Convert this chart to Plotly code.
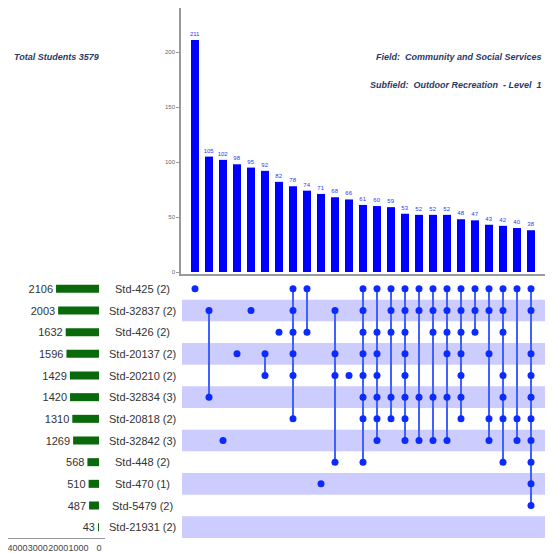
import plotly.graph_objects as go

# ---- data ----
intersection_sizes = [211, 105, 102, 98, 95, 92, 82, 78, 74, 71, 68, 66, 61, 60, 59,
                      53, 52, 52, 52, 48, 47, 43, 42, 40, 38]
set_names = ["Std-425 (2)", "Std-32837 (2)", "Std-426 (2)", "Std-20137 (2)",
             "Std-20210 (2)", "Std-32834 (3)", "Std-20818 (2)", "Std-32842 (3)",
             "Std-448 (2)", "Std-470 (1)", "Std-5479 (2)", "Std-21931 (2)"]
set_sizes = [2106, 2003, 1632, 1596, 1429, 1420, 1310, 1269, 568, 510, 487, 43]
memberships = [
    [0], [1, 5], [7], [3], [1], [3, 4], [2], [0, 1, 2, 3, 4, 6], [0, 2], [9],
    [1, 3, 4, 8], [4], [0, 1, 2, 3, 4, 5, 6, 8], [0, 2, 3, 4, 5, 6, 7],
    [0, 1, 2, 5, 6], [0, 1, 2, 3, 4, 5, 6, 7], [0, 1, 5, 7], [0, 1, 2, 5, 7],
    [0, 1, 2, 3, 5, 7], [0, 1, 2, 3, 4, 5, 6], [0, 1, 2], [0, 1, 3, 6, 7],
    [0, 1, 2, 4, 5, 6, 8], [0, 6, 7], [0, 1, 3, 4, 5, 6, 7, 8, 9, 10],
]
total_students = 3579
field = "Community and Social Services"
subfield = "Outdoor Recreation  - Level  1"
left_ticks = [0, 1000, 2000, 3000, 4000, 5000]
top_ticks = [0, 50, 100, 150, 200]

# page body has an 8px margin; figure is 545x545 placed at (8, 8)
OFF = 8
W = H = 545
def px(x):
    return (x - OFF) / W
def py(y):
    return 1 - (y - OFF) / H

cols = list(range(len(intersection_sizes)))
rows = list(range(len(set_names)))

fig = go.Figure()

# top intersection bars
fig.add_trace(go.Bar(
    x=cols, y=intersection_sizes, xaxis="x2", yaxis="y2",
    marker=dict(color="#0000ff", line=dict(width=0)), width=0.57,
    text=[str(v) for v in intersection_sizes], textposition="outside",
    constraintext="none",
    textfont=dict(size=6, color="#3333ff", family="Liberation Sans"),
    cliponaxis=False, showlegend=False, hoverinfo="skip"))

# left set-size bars
fig.add_trace(go.Bar(
    x=set_sizes, y=rows, orientation="h", xaxis="x", yaxis="y",
    marker=dict(color="#0a690a", line=dict(width=0)), width=0.37,
    text=[str(v) for v in set_sizes], textposition="outside",
    constraintext="none",
    textfont=dict(size=11, color="#333333", family="Liberation Sans"),
    cliponaxis=False, showlegend=False, hoverinfo="skip"))

# matrix lines
lx, ly = [], []
for c, m in enumerate(memberships):
    if len(m) > 1:
        lx += [c, c, None]
        ly += [min(m), max(m), None]
fig.add_trace(go.Scatter(
    x=lx, y=ly, mode="lines", xaxis="x3", yaxis="y3",
    line=dict(color="#4060ff", width=2), showlegend=False, hoverinfo="skip"))

# matrix dots
dx, dy = [], []
for c, m in enumerate(memberships):
    for r in m:
        dx.append(c)
        dy.append(r)
fig.add_trace(go.Scatter(
    x=dx, y=dy, mode="markers", xaxis="x3", yaxis="y3",
    marker=dict(color="#0a2aff", size=7, line=dict(width=0)),
    showlegend=False, hoverinfo="skip"))

# bands
shapes = []
for r in rows:
    if r % 2 == 1:
        shapes.append(dict(type="rect", xref="paper", yref="y3",
                           x0=px(182), x1=px(545), y0=r - 0.5, y1=r + 0.5,
                           fillcolor="#ccccff", line=dict(width=0), layer="below"))

annotations = []
for r, name in enumerate(set_names):
    annotations.append(dict(x=px(142), y=r, xref="paper", yref="y3",
                            text=name, showarrow=False, xanchor="center",
                            font=dict(size=11, color="#333333", family="Liberation Sans")))

title_font = dict(size=9, color="#2b3a67", family="Liberation Sans")
annotations.append(dict(x=px(12), y=py(57), xref="paper", yref="paper",
                        text=f"<b><i>Total Students {total_students}</i></b>",
                        showarrow=False, xanchor="left", yanchor="middle", font=title_font))
annotations.append(dict(x=px(544), y=py(57), xref="paper", yref="paper",
                        text=f"<b><i>Field:\u00a0 {field}</i></b>",
                        showarrow=False, xanchor="right", yanchor="middle", font=title_font))
annotations.append(dict(x=px(544), y=py(85), xref="paper", yref="paper",
                        text=f"<b><i>Subfield:\u00a0 {subfield.replace('  ', chr(160) + ' ')}</i></b>",
                        showarrow=False, xanchor="right", yanchor="middle", font=title_font))

mat_dom = [py(538), py(278)]
# left axis: ref x=8 -> paper 0; 0 value at ref x 99, 0.0204 px per unit
left_range = [(99 - OFF) / 0.0204, -(105 - 99) / 0.0204]
fig.update_layout(
    width=W, height=H, margin=dict(l=0, r=0, t=0, b=0),
    paper_bgcolor="white", plot_bgcolor="rgba(0,0,0,0)",
    shapes=shapes, annotations=annotations,
    xaxis=dict(domain=[px(8), px(105)], range=left_range, anchor="y",
               tickvals=left_ticks, ticktext=[str(t) for t in left_ticks],
               tickangle=0, ticklabelstandoff=1, ticklabeloverflow="allow",
               showline=True, linecolor="#999999", linewidth=1,
               ticks="", showgrid=False, zeroline=False,
               tickfont=dict(size=9, color="#444444", family="Liberation Sans")),
    yaxis=dict(domain=mat_dom, range=[11.5, -0.5], anchor="x",
               showticklabels=False, showgrid=False, zeroline=False, showline=False),
    xaxis2=dict(domain=[px(181), px(545)], range=[-1, 25], anchor="y2",
                showticklabels=False, showgrid=False, zeroline=False,
                showline=True, linecolor="#999999", linewidth=1.5, ticks=""),
    yaxis2=dict(domain=[py(274), py(8)], range=[-1.8, (274 - 8) / 1.0995 - 1.8], anchor="x2",
                tickvals=top_ticks, showgrid=False, zeroline=False,
                showline=True, linecolor="#999999", linewidth=1.5,
                ticks="outside", ticklen=3, tickcolor="#999999",
                tickfont=dict(size=6, color="#666666", family="Liberation Sans")),
    xaxis3=dict(domain=[px(181), px(545)], range=[-1, 25], anchor="y3",
                showticklabels=False, showgrid=False, zeroline=False, showline=False),
    yaxis3=dict(domain=mat_dom, range=[11.5, -0.5], anchor="x3",
                showticklabels=False, showgrid=False, zeroline=False, showline=False),
)

fig.write_html("out.html")
